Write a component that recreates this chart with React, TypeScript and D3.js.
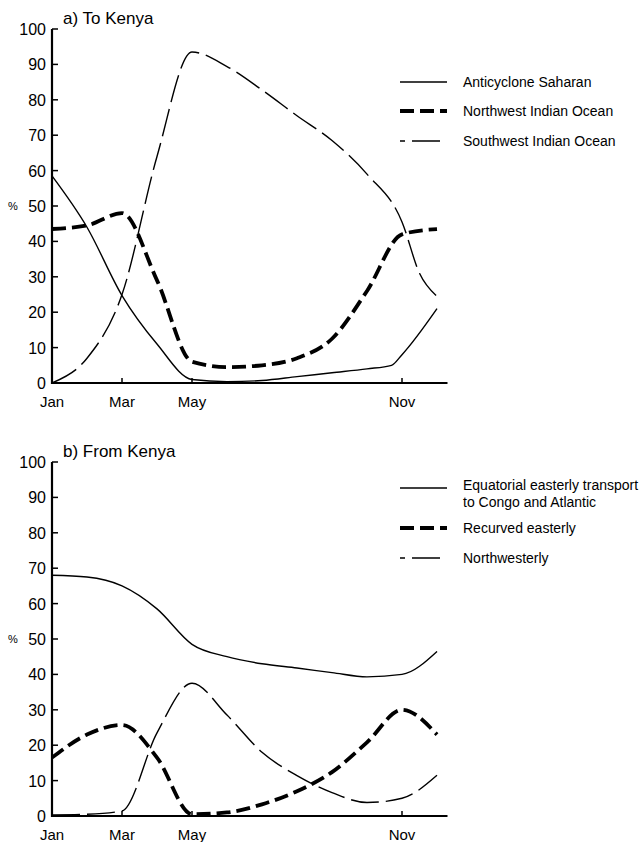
import React from "react";
import * as d3 from "d3";

const tickMonths = [0, 2, 4, 10];
const tickMonthLabels = ["Jan", "Mar", "May", "Nov"];
const yTicks = [0, 10, 20, 30, 40, 50, 60, 70, 80, 90, 100];

// [month index (Jan = 0), percent]
// a) To Kenya
const anticycloneSaharan = [[0, 58.5], [1, 44], [2, 24.7], [3, 11], [4, 1], [5, 0.4], [6, 0.7], [7, 1.8], [8, 2.9], [9, 4], [9.7, 5], [10, 8], [11, 21]];
const northwestIndianOcean = [[0, 43.5], [1, 44.5], [2, 48], [3, 29], [4, 6], [5, 4.5], [6, 5], [7, 7], [8, 12.5], [9, 26], [10, 42], [11, 43.5]];
const southwestIndianOcean = [[0, 0], [1, 7], [2, 25], [3, 64], [4, 93.5], [5, 89.4], [6, 82.8], [7, 75.5], [8, 68.5], [9, 59], [10, 45.5], [10.5, 31], [11, 24.5]];

// b) From Kenya
const equatorialEasterly = [[0, 68], [1, 67.5], [2, 65], [3, 58.5], [4, 48.5], [5, 45], [6, 43], [7, 41.8], [8, 40.5], [9, 39.3], [10, 40], [11, 46.5]];
const recurvedEasterly = [[0, 16.5], [1, 23], [2, 25.7], [3, 16.5], [4, 0.5], [5, 1], [6, 3.3], [7, 7], [8, 12.4], [9, 20.8], [10, 30], [11, 23]];
const northwesterly = [[0, 0.3], [1, 0.5], [2, 1.4], [3, 23.5], [4, 37.5], [5, 28.5], [6, 18], [7, 11.4], [8, 6.6], [9, 3.8], [10, 5], [11, 11.5]];

const panelA = {
  title: "a) To Kenya",
  names: ["Anticyclone Saharan", "Northwest Indian Ocean", "Southwest Indian Ocean"],
  series: [anticycloneSaharan, northwestIndianOcean, southwestIndianOcean],
};
const panelB = {
  title: "b) From Kenya",
  names: ["Equatorial easterly transport|to Congo and Atlantic", "Recurved easterly", "Northwesterly"],
  series: [equatorialEasterly, recurvedEasterly, northwesterly],
};

const FONT = "'Liberation Sans', Arial, Helvetica, sans-serif";
const styles = [
  { w: 1.4, dash: "none" },
  { w: 3.8, dash: "14,6" },
  { w: 1.4, dash: "28,7" },
];

function Panel({ panel, y0, y100, legendRows }) {
  const x = d3.scaleLinear().domain([0, 11.3]).range([52, 447.5]);
  const y = d3.scaleLinear().domain([0, 100]).range([y0, y100]);
  const line = d3
    .line<number[]>()
    .x((d) => x(d[0]))
    .y((d) => y(d[1]))
    .curve(d3.curveMonotoneX);
  return (
    <g>
      <text x={63} y={y100 - 5} fontSize={17} fontFamily={FONT}>{panel.title}</text>
      <text x={8} y={y(50) + 4} fontSize={11} fontFamily={FONT}>%</text>
      {yTicks.map((t) => (
        <g key={t}>
          <line x1={x(0)} x2={x(0) + 6} y1={y(t)} y2={y(t)} stroke="#000" strokeWidth={1.5} />
          <text x={46} y={y(t) + 6} textAnchor="end" fontSize={16} fontFamily={FONT}>{t}</text>
        </g>
      ))}
      {tickMonths.map((m, i) => (
        <g key={m}>
          {m > 0 && <line x1={x(m)} x2={x(m)} y1={y0} y2={y0 - 5} stroke="#000" strokeWidth={1.5} />}
          <text x={x(m)} y={y0 + 24} textAnchor="middle" fontSize={15} fontFamily={FONT}>{tickMonthLabels[i]}</text>
        </g>
      ))}
      {panel.series.map((s, i) => (
        <path key={i} d={line(s) || ""} fill="none" stroke="#000" strokeWidth={styles[i].w}
          strokeDasharray={styles[i].dash} />
      ))}
      <line x1={x(0)} x2={x(0)} y1={y0 + 1} y2={y100} stroke="#000" strokeWidth={2.2} />
      <line x1={x(0)} x2={x(11.3)} y1={y0} y2={y0} stroke="#000" strokeWidth={2.2} />
      {panel.names.map((n, i) => {
        const ly = legendRows[i];
        const parts = n.split("|");
        return (
          <g key={i}>
            <line x1={400} x2={447} y1={ly} y2={ly} stroke="#000" strokeWidth={i === 1 ? 3.8 : 1.4}
              strokeDasharray={styles[i].dash} strokeDashoffset={i === 2 ? 23 : 0} />
            {parts.map((p, j) => (
              <text key={j} x={463} y={ly + 5 + j * 17 - (parts.length > 1 ? 3 : 0)} fontSize={14} fontFamily={FONT}>{p}</text>
            ))}
          </g>
        );
      })}
    </g>
  );
}

export default function App() {
  return (
    <svg width={640} height={842} style={{ position: "absolute", left: 0, top: 0, background: "#fff" }}>
      <rect width={640} height={842} fill="#fff" />
      <Panel panel={panelA} y0={383} y100={29} legendRows={[82, 111, 141]} />
      <Panel panel={panelB} y0={816} y100={462} legendRows={[488, 528, 558]} />
    </svg>
  );
}
